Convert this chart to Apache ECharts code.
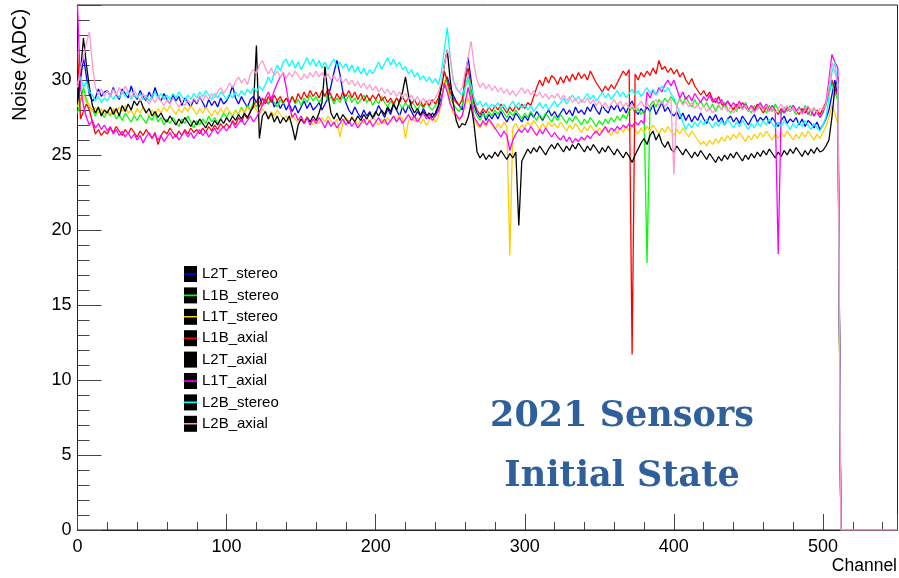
<!DOCTYPE html>
<html>
<head>
<meta charset="utf-8">
<script src="https://cdn.jsdelivr.net/npm/echarts@6/dist/echarts.min.js"></script>
<style>html,body{margin:0;padding:0;background:#fff}#c{width:899px;height:578px}</style>
</head>
<body>
<div id="c"></div>
<script>
// x tick labels / axis ranges
const xTicks = [0, 100, 200, 300, 400, 500];
const yTicks = [0, 5, 10, 15, 20, 25, 30];
const seriesNames = ["L2T_stereo","L1B_stereo","L1T_stereo","L1B_axial","L2T_axial","L1T_axial","L2B_stereo","L2B_axial"];
const seriesColors = ["#0000ff","#00ff00","#ffcc00","#ff0000","#000000","#ff00ff","#00ffff","#ff99cc"];

// channels 0..512 in steps of 2
const channels = [];
for (let i = 0; i <= 256; i++) channels.push(2 * i);

const L2T_stereo = [
28.5,30.0,31.5,30.2,29.0,28.6,28.8,29.4,28.9,29.2,
29.3,28.9,29.5,29.0,28.7,29.4,29.1,28.8,29.6,29.0,
28.7,29.3,28.9,28.6,29.2,28.8,29.5,28.9,28.6,29.1,
28.7,28.4,29.0,28.6,28.9,28.3,28.8,28.5,28.2,28.7,
28.4,28.9,28.5,28.1,28.7,28.3,28.6,28.2,28.8,28.4,
28.6,29.0,29.6,28.8,28.4,28.9,28.5,28.2,28.7,28.9,
28.5,28.9,28.3,28.7,28.4,28.8,28.2,28.6,28.1,28.5,
28.0,28.4,27.9,28.3,27.8,28.2,28.6,28.1,28.5,28.0,
28.2,28.5,28.0,28.4,28.8,29.6,30.5,31.3,30.4,29.2,
28.5,28.0,27.7,28.2,27.8,27.5,28.0,27.6,27.9,27.4,
27.8,28.3,27.9,27.5,28.1,27.7,28.4,28.0,27.6,28.2,
27.8,28.3,27.9,27.5,27.9,27.6,28.1,27.7,27.4,27.8,
27.6,28.2,28.8,29.6,30.2,29.5,29.0,28.6,28.3,28.0,
30.2,31.5,30.0,28.3,27.8,27.5,27.9,27.3,27.7,27.4,
27.8,27.4,27.9,27.5,27.2,27.6,27.3,27.8,27.5,27.2,
27.6,27.3,27.8,27.5,27.9,27.6,27.3,27.7,28.0,27.6,
27.9,27.5,27.8,28.1,27.7,28.0,27.6,28.2,27.8,28.0,
27.7,28.2,27.9,28.4,28.0,27.7,28.3,28.0,27.8,28.3,
28.0,28.4,27.9,28.2,27.8,28.3,28.6,28.0,27.7,28.1,
27.8,28.2,27.9,28.4,27.7,28.1,28.5,27.9,28.2,27.8,
27.6,27.9,27.4,27.8,27.3,27.7,27.2,27.6,27.3,27.8,
27.4,27.1,27.6,27.3,27.7,27.2,27.5,27.0,27.4,27.6,
27.2,27.5,27.1,27.6,27.3,27.0,27.4,27.7,27.2,27.5,
27.3,27.6,27.1,27.5,27.2,26.9,27.3,27.6,27.1,27.4,
27.2,27.5,27.0,27.4,26.9,27.3,27.1,26.8,27.2,26.7,
27.0,27.4,28.0,29.0,30.0,28.8,0];

const L1B_stereo = [
27.8,28.5,29.5,28.7,28.2,28.0,27.6,28.1,27.8,27.5,
27.9,27.6,28.0,27.4,27.7,27.3,27.8,27.5,27.2,27.6,
27.3,27.7,27.4,27.1,27.6,27.3,27.8,27.2,27.5,27.0,
27.4,27.1,27.5,27.2,26.9,27.4,27.1,27.6,27.2,26.8,
27.3,27.0,27.4,27.1,27.6,27.2,27.5,27.1,27.4,27.8,
27.5,27.9,27.6,28.0,27.7,28.2,27.8,28.3,28.0,28.5,
28.2,28.6,28.3,28.8,28.4,28.9,28.5,28.2,28.7,28.4,
28.8,28.5,28.9,28.4,28.7,28.3,28.8,28.5,29.0,28.6,
28.9,28.5,28.8,29.1,28.6,28.9,28.4,28.8,28.5,28.9,
28.6,29.0,28.5,28.8,28.4,28.7,29.0,28.5,28.8,28.3,
28.7,28.4,28.9,28.5,28.2,28.6,28.3,28.8,28.4,28.1,
28.5,28.2,28.6,28.3,28.0,28.4,28.1,28.5,28.2,28.0,
28.3,28.6,29.5,30.5,29.8,28.9,28.4,28.1,27.9,28.3,
29.5,30.2,29.0,28.0,27.6,27.3,27.8,27.5,27.9,27.6,
28.0,27.7,28.1,27.8,27.5,27.9,27.6,28.0,27.7,27.4,
27.8,27.5,27.9,27.6,27.3,27.7,27.4,27.8,27.5,27.2,
27.6,27.3,27.7,27.4,27.1,27.5,27.2,27.6,27.3,27.0,
27.4,27.1,27.5,27.2,26.9,27.3,27.0,27.4,27.1,27.5,
27.2,27.6,27.3,27.7,27.4,27.9,28.2,27.8,28.1,27.7,
28.0,17.8,28.3,28.6,28.2,28.7,28.4,28.8,28.5,28.9,
28.6,28.3,28.8,28.4,28.9,28.5,28.2,28.7,28.3,28.6,
28.2,28.5,28.0,28.4,27.9,28.3,28.0,28.5,28.1,27.8,
28.2,27.9,28.4,28.0,28.5,28.1,27.8,28.3,28.0,28.4,
28.1,27.8,28.3,27.9,28.4,28.0,27.7,28.2,27.9,28.3,
28.0,27.7,28.2,27.8,28.3,27.9,27.6,28.1,27.8,27.5,
27.9,28.3,29.0,29.8,29.2,28.6,0];

const L1T_stereo = [
28.2,28.8,29.0,28.5,28.3,27.9,28.2,27.8,28.1,27.7,
28.0,27.7,28.1,27.8,28.2,27.9,28.3,27.8,28.0,27.6,
28.1,27.8,28.2,27.9,27.6,28.0,27.7,28.1,27.8,28.2,
27.9,28.3,28.0,27.7,28.1,27.8,28.2,27.9,28.3,28.0,
27.7,28.1,27.8,28.2,27.9,27.6,28.0,27.7,28.1,27.8,
28.2,27.9,27.6,28.0,27.7,28.1,27.8,28.2,27.9,28.3,
28.0,27.7,28.1,27.8,27.5,27.9,27.6,28.0,27.7,27.4,
27.6,27.3,27.7,27.4,27.1,27.5,27.2,27.6,27.3,27.0,
27.4,27.1,27.5,27.2,27.6,27.3,27.0,27.4,26.2,27.1,
27.5,27.2,27.6,27.3,27.0,27.4,27.1,27.5,27.2,27.6,
27.3,27.0,27.4,27.1,27.5,27.2,27.6,27.3,27.7,27.4,
26.1,27.3,27.6,27.2,27.5,27.1,27.4,27.0,27.3,27.6,
27.2,27.5,28.5,30.0,29.5,28.5,27.8,27.5,27.3,27.6,
28.3,28.8,28.0,27.4,27.0,26.8,27.2,26.9,27.3,27.0,
26.7,27.1,26.8,27.2,26.9,18.3,26.8,27.1,26.7,27.0,
26.8,27.2,26.9,27.3,27.0,26.7,27.1,26.8,27.2,26.9,
27.1,26.8,27.2,26.9,26.6,27.0,26.7,27.1,26.8,26.5,
26.9,26.6,27.0,26.7,26.4,26.8,26.5,26.9,26.6,26.3,
26.7,26.4,26.8,26.5,26.9,26.6,27.0,26.7,26.4,26.8,
26.5,26.9,26.6,27.0,26.7,26.4,26.8,26.5,26.9,26.6,
26.3,26.7,26.4,26.8,26.5,26.2,26.6,26.3,26.0,25.7,
25.9,25.6,26.0,25.7,26.1,25.8,26.2,25.9,26.3,26.0,
26.4,26.1,26.5,26.2,25.9,26.3,26.0,26.4,26.1,26.5,
26.2,26.6,26.3,26.0,26.4,26.1,26.5,26.2,26.6,26.3,
26.0,26.4,26.1,26.5,26.2,26.6,26.3,26.0,26.4,26.1,
26.5,26.9,27.5,28.3,27.8,27.0,0];

const L1B_axial = [
32.0,27.4,27.9,28.4,28.0,27.2,26.4,26.7,26.3,26.6,
26.4,26.8,26.5,26.9,26.6,26.3,26.7,26.4,26.8,26.5,
26.2,26.6,26.3,26.7,26.4,26.1,26.5,25.7,26.3,26.6,
26.4,26.8,26.5,26.2,26.6,26.3,26.7,26.4,26.8,26.5,
26.7,26.4,26.8,26.5,26.9,26.6,27.0,26.7,27.1,26.8,
27.1,26.8,27.3,27.0,27.5,27.2,27.7,27.4,27.9,28.3,
28.6,28.2,28.8,28.4,28.9,28.5,29.0,28.6,28.9,28.5,
28.8,28.4,28.9,28.5,29.1,28.7,29.2,28.8,29.3,28.9,
29.2,28.8,29.3,28.9,29.4,29.0,28.6,29.1,28.7,29.2,
28.9,29.3,28.8,29.2,28.7,29.1,28.6,29.0,28.6,29.0,
28.7,29.1,28.6,28.9,28.5,28.8,28.4,28.8,28.5,28.9,
28.5,28.8,28.4,28.7,28.3,28.6,28.2,28.6,28.3,28.7,
28.4,28.8,29.5,30.6,30.0,29.2,28.8,28.5,28.3,28.7,
30.0,30.8,29.5,28.5,28.0,27.7,28.1,27.8,28.2,27.9,
28.3,28.0,28.4,28.1,27.8,28.2,27.9,28.3,28.0,28.4,
28.1,28.5,28.3,28.9,29.5,30.0,29.6,30.2,29.8,30.3,
30.1,29.7,30.2,29.8,30.3,29.9,30.4,30.0,30.5,30.1,
30.4,30.0,30.6,30.2,29.8,29.5,29.2,29.6,29.3,29.7,
29.4,29.8,30.2,30.6,30.3,30.7,11.7,30.4,30.0,30.5,
30.2,30.6,30.3,30.8,30.4,31.3,30.7,30.9,30.5,30.8,
30.4,30.7,30.2,30.5,30.0,29.7,30.1,29.6,29.3,29.0,
29.3,28.9,29.2,28.7,28.5,28.9,28.4,28.2,28.6,28.3,
28.0,28.4,28.1,28.5,28.2,27.9,28.3,28.0,28.4,28.1,
27.8,28.2,27.9,28.3,28.0,27.7,28.1,27.8,28.2,27.9,
28.3,28.0,27.7,28.1,27.8,28.2,27.9,27.6,28.0,27.7,
28.1,28.5,29.2,30.0,29.4,29.0,0];

const L2T_axial = [
28.5,30.5,32.8,31.0,29.5,28.3,27.8,28.2,27.6,28.0,
27.8,28.2,27.7,28.1,27.6,28.3,27.9,28.4,28.0,28.6,
28.3,28.7,28.2,27.8,28.1,27.6,27.9,27.5,27.8,27.4,
27.2,27.6,27.3,27.0,27.4,27.1,27.5,27.2,26.9,27.3,
27.0,27.4,27.1,26.8,27.2,26.9,27.3,27.0,27.4,27.1,
27.5,27.2,27.6,27.3,27.7,27.4,27.8,27.5,27.9,28.2,
32.3,26.1,27.6,27.9,27.4,27.8,27.2,27.6,27.1,27.5,
27.2,27.6,26.9,26.0,27.0,27.4,27.1,27.5,27.2,27.6,
27.3,27.8,28.5,30.9,29.0,27.8,27.4,27.8,27.3,27.7,
27.4,27.1,27.5,27.2,27.6,27.3,27.7,27.4,27.8,27.5,
27.9,27.6,28.0,27.7,28.2,27.9,28.4,28.0,28.6,29.2,
30.2,29.0,28.2,27.8,28.1,27.7,27.9,27.6,27.8,27.5,
27.8,28.3,29.5,31.0,32.0,30.0,28.5,27.3,26.8,27.1,
27.0,27.5,28.4,27.0,25.2,24.8,25.1,24.7,25.0,24.8,
25.2,24.9,25.3,25.0,24.7,25.1,24.8,25.2,20.3,24.6,
25.0,25.4,25.1,25.5,25.2,25.6,25.3,25.0,25.4,25.7,
25.4,25.8,25.5,25.2,25.6,25.3,25.7,25.4,25.8,25.5,
25.2,25.6,25.3,25.7,25.4,25.1,25.5,25.2,25.6,25.3,
25.0,25.4,25.1,24.8,25.2,24.9,24.5,25.0,25.4,25.8,
26.1,25.7,26.3,26.6,26.0,26.4,25.8,25.5,25.9,25.4,
25.2,25.6,25.3,25.0,25.4,25.1,24.8,25.2,24.9,25.3,
25.0,24.7,25.1,24.8,24.5,24.9,24.6,25.0,24.7,25.1,
24.8,25.2,24.9,24.6,25.0,24.7,25.1,24.8,25.2,24.9,
25.3,25.0,25.4,25.1,24.8,25.2,24.9,25.3,25.0,25.4,
25.1,25.5,25.2,24.9,25.3,25.0,25.4,25.1,25.5,25.2,
25.3,25.6,26.0,27.5,29.5,30.2,0];

const L1T_axial = [
35.0,29.5,28.3,27.5,27.0,27.3,26.8,27.1,26.7,27.0,
26.6,26.9,26.4,26.7,26.3,26.6,26.2,26.5,26.1,26.4,
26.0,26.3,25.8,26.2,26.5,26.1,26.4,26.0,26.3,25.9,
26.2,26.5,26.1,26.4,26.0,26.3,26.6,26.2,26.5,26.1,
26.4,26.7,26.3,26.6,26.2,26.5,26.8,26.4,26.7,26.9,
26.6,26.9,27.2,26.8,27.1,27.4,27.0,27.3,27.6,27.2,
27.5,27.9,28.3,28.8,29.2,28.7,29.3,29.8,30.2,30.5,
29.5,28.3,27.5,27.8,27.3,27.6,27.1,27.5,27.0,27.4,
27.1,27.5,27.2,26.8,27.3,26.9,27.2,26.8,27.1,27.4,
27.0,27.3,26.9,27.2,26.8,27.1,27.4,27.0,27.3,26.9,
27.2,27.5,27.1,27.4,27.0,27.3,27.6,27.2,27.5,27.1,
27.4,27.7,27.3,27.6,27.2,27.5,27.8,27.4,27.7,27.3,
27.6,27.9,28.5,29.8,29.2,28.4,28.0,27.7,27.4,27.6,
28.5,29.5,28.6,27.5,27.2,26.9,27.3,27.0,27.4,27.1,
26.8,26.5,26.2,26.6,26.3,25.3,26.0,26.4,26.7,26.5,
26.8,26.5,26.9,26.6,26.3,26.7,26.4,26.8,26.5,26.2,
26.5,26.2,26.0,26.3,25.9,26.2,25.8,26.1,25.9,26.2,
26.0,26.3,26.1,26.4,26.6,26.3,26.6,26.9,26.5,26.8,
26.6,26.9,26.7,27.0,26.8,27.1,26.9,27.2,27.0,27.3,
27.1,29.2,28.8,29.3,29.0,29.5,29.2,29.7,30.0,29.6,
30.0,29.4,28.8,29.2,28.7,29.0,28.6,29.1,28.8,28.5,
28.9,28.6,29.0,28.5,28.8,28.4,28.7,28.3,28.6,28.2,
28.5,28.2,28.6,28.1,28.4,28.0,28.3,27.9,28.2,28.5,
28.1,28.4,28.0,28.3,27.9,18.4,28.1,27.8,28.2,27.9,
28.3,27.9,28.2,27.8,28.1,27.7,28.0,27.6,27.9,27.5,
27.8,28.5,30.0,31.7,31.2,30.8,0];

const L2B_stereo = [
29.8,30.2,29.5,29.9,29.2,29.0,28.6,28.9,28.5,28.8,
28.6,29.0,28.7,29.1,28.8,29.2,28.9,29.3,28.7,29.0,
28.8,29.1,28.7,29.0,28.6,28.9,29.2,28.8,29.1,28.7,
29.0,28.7,29.1,28.8,29.2,28.9,28.6,29.0,28.7,29.1,
28.8,29.2,28.9,29.3,29.0,28.7,29.1,28.8,29.2,29.0,
28.7,29.1,28.8,29.2,28.9,29.3,29.0,29.4,29.1,29.5,
29.2,29.6,29.3,29.7,30.2,29.8,30.5,31.0,30.6,31.2,
31.4,30.9,31.3,30.8,31.2,30.7,31.1,31.5,31.0,31.4,
30.9,31.3,30.8,31.2,30.7,31.1,31.4,30.9,31.2,30.8,
31.1,30.6,31.0,30.5,30.9,30.4,30.8,30.3,30.7,30.4,
30.8,31.2,30.7,31.1,31.5,31.0,31.4,30.9,31.2,30.7,
30.9,30.4,30.7,30.2,30.5,30.0,30.3,29.9,30.2,29.8,
30.1,29.7,30.5,32.0,33.5,31.5,30.0,29.5,29.2,29.0,
29.5,30.2,29.6,28.8,28.3,28.6,28.2,28.5,28.1,28.4,
28.2,28.5,28.1,28.4,28.0,28.3,28.6,28.2,28.5,28.1,
28.4,28.0,28.3,27.9,28.2,28.5,28.1,28.4,28.0,28.3,
28.6,28.2,28.5,28.8,28.4,28.7,29.0,28.6,28.9,28.5,
28.8,29.1,28.7,29.0,28.6,28.9,29.2,28.8,29.1,28.7,
29.0,29.3,28.9,29.2,28.8,29.1,29.4,29.0,29.3,28.9,
29.2,29.5,29.1,29.4,29.0,29.3,29.6,29.2,29.5,29.1,
28.8,28.3,27.8,27.2,26.7,27.1,26.8,27.2,26.9,27.3,
27.0,27.4,27.1,26.8,27.2,26.9,27.3,27.0,27.4,27.1,
26.8,27.2,26.9,27.3,27.0,26.7,27.1,26.8,27.2,26.9,
27.3,27.0,27.4,27.1,26.8,27.2,26.9,27.3,27.0,26.7,
27.1,26.8,27.2,26.9,27.3,27.0,26.7,27.1,26.8,26.6,
27.0,27.5,28.8,30.5,31.2,29.5,0];

const L2B_axial = [
29.5,30.8,31.5,32.5,33.2,31.0,29.5,29.0,29.4,28.9,
29.3,28.9,29.4,29.0,29.5,29.1,29.6,29.2,28.8,29.3,
29.0,28.6,29.1,28.7,28.4,28.8,28.5,28.9,28.6,28.3,
28.7,28.4,28.8,28.5,28.2,28.6,28.3,28.7,28.4,28.8,
28.5,28.9,28.6,29.0,28.7,29.1,28.8,29.2,29.5,29.1,
29.4,29.8,29.5,29.9,30.2,29.8,30.1,29.7,30.4,30.7,
30.4,31.0,31.3,30.8,30.4,30.8,30.3,30.6,30.2,30.5,
30.1,30.5,30.2,30.6,30.3,30.0,30.4,30.1,30.5,30.2,
30.6,30.2,30.5,30.1,30.4,30.0,30.3,29.9,30.2,29.8,
30.1,29.7,30.0,29.6,29.9,29.5,29.8,29.4,29.7,29.3,
29.6,29.2,29.5,29.1,29.4,29.0,29.3,28.9,29.2,28.8,
29.1,28.7,29.0,28.6,28.9,28.5,28.8,28.4,28.7,28.5,
28.8,29.2,29.8,31.0,32.0,31.5,30.0,29.4,29.2,29.5,
30.5,31.5,32.6,31.0,30.0,29.5,29.8,29.4,29.7,29.3,
29.6,29.2,29.5,29.1,29.4,29.0,29.3,28.9,29.2,29.5,
29.1,29.4,29.0,29.3,28.9,29.2,28.8,29.1,28.7,29.0,
28.8,29.1,28.7,29.0,28.6,28.9,28.5,28.8,28.4,28.7,
28.5,28.8,28.4,28.7,28.3,28.6,28.2,28.5,28.1,28.4,
28.7,28.3,28.6,28.2,28.5,28.1,28.4,28.0,28.3,28.6,
28.2,28.5,28.1,28.4,28.7,28.3,28.6,28.2,28.5,28.8,
23.7,28.4,28.7,28.3,28.6,28.2,28.5,28.1,28.4,28.0,
28.3,27.9,28.2,27.8,28.1,28.4,28.0,28.3,27.9,28.2,
27.8,28.1,28.4,28.0,28.3,27.9,28.2,27.8,28.1,28.3,
28.0,28.3,27.9,28.2,27.8,28.1,28.4,28.0,28.3,27.9,
28.2,27.8,28.1,27.7,28.0,28.3,27.9,28.2,27.8,28.1,
28.0,28.4,29.5,31.2,30.5,29.8,0];
// L2B_axial continues at zero beyond the last strip
const tailChannels = [550];
const tailValues = [0];

const allValues = [L2T_stereo, L1B_stereo, L1T_stereo, L1B_axial, L2T_axial, L1T_axial, L2B_stereo, L2B_axial];

const FONT = "Liberation Sans";
const series = seriesNames.map((name, k) => {
  const vals = allValues[k];
  const data = vals.map((v, i) => [channels[i], v]);
  if (k === 7) tailChannels.forEach((c, j) => data.push([c, tailValues[j]]));
  return {
    name: name,
    type: 'line',
    data: data,
    showSymbol: false,
    symbol: 'none',
    color: seriesColors[k],
    itemStyle: { color: seriesColors[k] },
    lineStyle: { color: seriesColors[k], width: 1.3 },
    animation: false,
    z: 2 + k
  };
});

const chart = echarts.init(document.getElementById('c'), null, { renderer: 'canvas' });
const barIcon = 'path://M0,0L0.01,0L0,0.01Z M0,7.2L13,7.2L13,8.8L0,8.8Z M13,16L12.99,16L13,15.99Z';
chart.setOption({
  animation: false,
  backgroundColor: '#ffffff',
  grid: { left: 77.5, right: 1.5, top: 5, bottom: 48, show: true, borderColor: '#222', borderWidth: 1, backgroundColor: 'transparent' },
  xAxis: {
    type: 'value', min: 0, max: 550, interval: 100,
    axisLine: { show: true, lineStyle: { color: '#222', width: 1 } },
    axisTick: { show: true, inside: true, length: 16, lineStyle: { color: '#444' } },
    minorTick: { show: true, splitNumber: 5, length: 8, lineStyle: { color: '#444' } },
    splitLine: { show: false },
    axisLabel: { show: true, color: '#000', fontFamily: FONT, fontSize: 18, margin: 8, showMaxLabel: false,
      formatter: v => (xTicks.indexOf(v) >= 0 ? String(v) : '') }
  },
  yAxis: {
    type: 'value', min: 0, max: 35, interval: 5,
    axisLine: { show: true, lineStyle: { color: '#222', width: 1 } },
    axisTick: { show: true, inside: true, length: 24, lineStyle: { color: '#444' } },
    minorTick: { show: true, splitNumber: 5, length: 12, lineStyle: { color: '#444' } },
    splitLine: { show: false },
    axisLabel: { show: true, color: '#000', fontFamily: FONT, fontSize: 18, margin: 6,
      formatter: v => (yTicks.indexOf(v) >= 0 ? String(v) : '') }
  },
  legend: [
    {
      data: seriesNames, orient: 'vertical', left: 184, top: 266, itemWidth: 13, itemHeight: 16, itemGap: 5.4,
      icon: 'rect', itemStyle: { color: '#000', borderWidth: 0 },
      textStyle: { color: '#000', fontFamily: FONT, fontSize: 15 }, selectedMode: false, padding: 0
    },
    {
      data: seriesNames, orient: 'vertical', left: 184, top: 266, itemWidth: 13, itemHeight: 16, itemGap: 5.4,
      icon: barIcon, itemStyle: { borderWidth: 0 },
      textStyle: { color: 'rgba(0,0,0,0)', fontFamily: FONT, fontSize: 15 }, selectedMode: false, padding: 0
    }
  ],
  graphic: [
    { type: 'text', right: 2, top: 557, style: { text: 'Channel', fontFamily: FONT, fontSize: 17.5, fill: '#000' } },
    { type: 'text', x: 20, y: 65, rotation: Math.PI / 2,
      style: { text: 'Noise (ADC)', fontFamily: FONT, fontSize: 20, fill: '#000', textAlign: 'center', textVerticalAlign: 'middle' } },
    { type: 'text', x: 622, y: 417,
      style: { text: '2021 Sensors', fontFamily: 'DejaVu Serif', fontWeight: 'bold', fontSize: 35, fill: '#30609c', textAlign: 'center', textVerticalAlign: 'middle' } },
    { type: 'text', x: 622, y: 477,
      style: { text: 'Initial State', fontFamily: 'DejaVu Serif', fontWeight: 'bold', fontSize: 35, fill: '#30609c', textAlign: 'center', textVerticalAlign: 'middle' } }
  ],
  series: series
});
</script>
</body>
</html>
